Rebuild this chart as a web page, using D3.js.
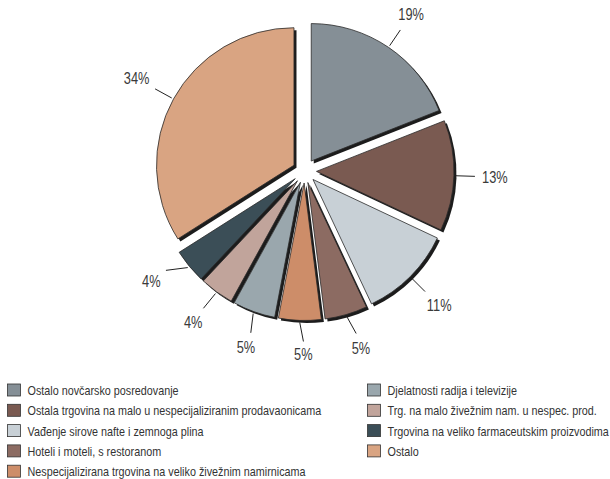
<!DOCTYPE html>
<html><head><meta charset="utf-8">
<script src="https://cdn.jsdelivr.net/npm/d3@7"></script>
<style>body{margin:0;background:#fff}</style>
</head><body>
<svg id="c" width="610" height="479"></svg>
<script>
const categories = [
  "Ostalo novčarsko posredovanje",
  "Ostala trgovina na malo u nespecijaliziranim prodavaonicama",
  "Vađenje sirove nafte i zemnoga plina",
  "Hoteli i moteli, s restoranom",
  "Nespecijalizirana trgovina na veliko živežnim namirnicama",
  "Djelatnosti radija i televizije",
  "Trg. na malo živežnim nam. u nespec. prod.",
  "Trgovina na veliko farmaceutskim proizvodima",
  "Ostalo"
];
const values = [19, 13, 11, 5, 5, 5, 4, 4, 34];
const percentLabels = ["19%", "13%", "11%", "5%", "5%", "5%", "4%", "4%", "34%"];
const colors = ["#858f96", "#7a5a51", "#c8d0d6", "#8c6b62", "#cd8d69", "#9aa7ad", "#c1a49b", "#3b4e57", "#d9a482"];

const svg = d3.select("#c");
const cx = 304.5, cy = 171, R = 137.5, explode = 12;
const labelFont = "Liberation Sans, Arial, sans-serif";
const sxLabel = 0.8, sxLegend = 0.83;
const minLabelGap = 18 * Math.PI / 180;

const pie = d3.pie().sort(null).value(d => d)(values);
const arc = d3.arc().innerRadius(0).outerRadius(R);
const g = svg.append("g").attr("transform", `translate(${cx},${cy})`);

const mid = d => (d.startAngle + d.endAngle) / 2;
const dirOf = a => [Math.sin(a), -Math.cos(a)];

// shadows
g.selectAll("path.sh").data(pie).join("path").attr("class", "sh")
  .attr("d", arc).attr("fill", "#1c1c1c")
  .attr("transform", d => { const [ux, uy] = dirOf(mid(d)); return `translate(${ux * explode + 2.5},${uy * explode + 2.5})`; });
// slices
g.selectAll("path.sl").data(pie).join("path").attr("class", "sl")
  .attr("d", arc).attr("fill", (d, i) => colors[i]).attr("stroke", "#2a2a2a").attr("stroke-width", 0.8)
  .attr("transform", d => { const [ux, uy] = dirOf(mid(d)); return `translate(${ux * explode},${uy * explode})`; });

// label angles: spread apart to a minimum gap
const la = pie.map(mid);
for (let it = 0; it < 200; it++) {
  for (let i = 0; i < la.length - 1; i++) {
    const gap = la[i + 1] - la[i];
    if (gap < minLabelGap) {
      const def = (minLabelGap - gap) / 2;
      la[i] -= def; la[i + 1] += def;
    }
  }
}

pie.forEach((d, i) => {
  const [ux, uy] = dirOf(mid(d));
  const ox = ux * explode, oy = uy * explode;
  const x1 = ox + ux * (R + 2), y1 = oy + uy * (R + 2);
  const [lx, ly] = dirOf(la[i]);
  const rEnd = R + explode + 21;
  const x2 = lx * rEnd, y2 = ly * rEnd;
  g.append("line").attr("x1", x1).attr("y1", y1).attr("x2", x2).attr("y2", y2)
    .attr("stroke", "#222").attr("stroke-width", 1);
  const t = g.append("text").text(percentLabels[i])
    .attr("font-family", labelFont).attr("font-size", 16).attr("fill", "#3a3a3a")
    .attr("text-anchor", "middle");
  const w = t.node().getComputedTextLength() * sxLabel;
  const k = Math.abs(lx) * w / 2 + Math.abs(ly) * 6 + 7;
  const tx = x2 + lx * k, ty = y2 + ly * k;
  t.attr("transform", `translate(${tx},${ty + 5.8}) scale(${sxLabel},1)`);
});

// legend
const leg = svg.append("g");
categories.forEach((c, i) => {
  const col = i < 5 ? 0 : 1;
  const row = i < 5 ? i : i - 5;
  const x = col === 0 ? 7.5 : 367.5;
  const y = 384 + row * 20.3;
  leg.append("rect").attr("x", x).attr("y", y).attr("width", 13).attr("height", 12)
    .attr("fill", colors[i]).attr("stroke", "#333").attr("stroke-width", 0.8);
  leg.append("text").text(c)
    .attr("font-family", labelFont).attr("font-size", 13).attr("fill", "#333")
    .attr("transform", `translate(${x + 20},${y + 11}) scale(${sxLegend},1)`);
});
</script>
</body></html>
